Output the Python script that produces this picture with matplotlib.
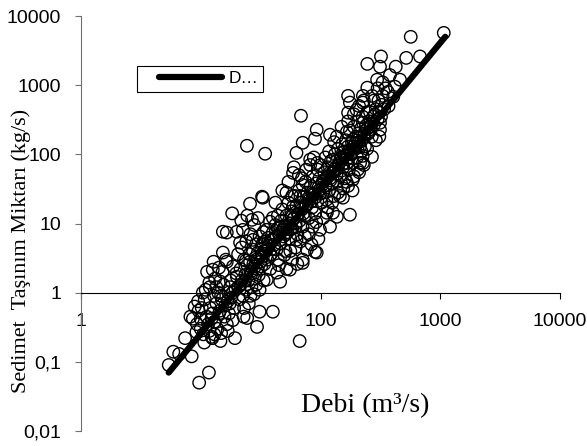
import numpy as np
import matplotlib.pyplot as plt
from matplotlib.ticker import NullLocator
from matplotlib.legend_handler import HandlerLine2D

plt.rcParams['font.family'] = ['Liberation Sans', 'DejaVu Sans']

# olcum noktalari: debi (m3/s) ve sediment (kg/s)
debi = [
    5.4, 5.9, 6.6, 7.4, 8.4, 9.7, 11.7, 8.2, 8.6, 8.9,
    9.3, 9.6, 10.2, 10.0, 10.5, 10.8, 11.2, 11.5, 11.0, 11.8,
    12.0, 9.5, 10.4, 11.3, 11.9, 12.5, 11.8, 9.2, 10.7, 10.0,
    # 12 - 20
    12.6, 12.5, 13.0, 13.5, 13.8, 14.0, 14.5, 14.8, 15.0, 15.5,
    15.8, 16.0, 16.5, 17.0, 17.5, 13.2, 14.2, 15.2, 16.2, 12.8,
    17.2, 17.8, 13.0, 16.8, 14.6, 15.3, 14.5, 16.5, 18.6, 19.5,
    18.0, 19.0, 18.5, 19.8, 16.5, 15.3, 18.3, 13.5, 14.8, 17.6,
    12.9, 12.4, 19.3,
    # 20 - 40
    20.0, 22.5, 21.3, 25.8, 26.8, 27.3, 32.5, 32.5, 25.8, 20.0,
    35.6, 34.5, 33.0, 37.9, 35.6, 40.0, 40.0, 20.5, 21.0, 21.5,
    22.0, 22.5, 23.0, 23.5, 24.0, 24.5, 25.0, 25.5, 26.0, 26.5,
    27.0, 27.5, 28.0, 28.5, 29.0, 29.5, 30.0, 30.5, 31.0, 31.5,
    32.0, 33.0, 33.5, 34.0, 34.5, 35.0, 36.0, 36.5, 37.0, 38.0,
    38.5, 39.0, 20.5, 22.0, 24.0, 26.0, 28.0, 30.0, 23.0, 26.0,
    29.0, 21.8, 24.5, 22.8, 25.2, 27.8, 31.0, 33.5, 24.4, 31.0,
    40.0, 29.5, 24.3, 23.8,
    # 40 - 100
    46.0, 48.5, 43.3, 55.6, 71.0, 90.0, 63.0, 59.0, 52.0, 59.0,
    71.0, 71.0, 63.0, 82.0, 90.0, 99.0, 67.0, 46.0, 71.0, 93.0,
    41.0, 42.0, 43.0, 44.0, 45.0, 46.0, 47.0, 48.0, 49.0, 50.0,
    51.0, 52.0, 53.0, 54.0, 55.0, 56.0, 57.0, 58.0, 60.0, 61.0,
    62.0, 63.0, 64.0, 65.0, 66.0, 67.0, 68.0, 70.0, 71.0, 72.0,
    74.0, 75.0, 76.0, 78.0, 80.0, 81.0, 83.0, 85.0, 86.0, 88.0,
    90.0, 92.0, 94.0, 95.0, 97.0, 98.0, 44.0, 50.0, 56.0, 62.0,
    68.0, 74.0, 80.0, 86.0, 92.0, 42.0, 48.0, 54.0, 60.0, 66.0,
    45.0, 52.0, 58.0, 64.0, 77.0, 84.0, 96.0, 58.0, 70.0, 76.0,
    82.0, 88.0, 94.0, 68.7, 93.0,
    # 100 - 250
    120, 120, 127, 113, 113, 137, 154, 176, 186, 166,
    137, 166, 186, 154, 127, 226, 214, 214, 170, 176,
    200, 170, 226, 226, 226, 246, 246, 102, 104,
    106, 108, 110, 112, 115, 118, 120, 122, 125, 128,
    130, 132, 135, 138, 140, 143, 146, 150, 152, 155,
    158, 160, 163, 166, 170, 173, 176, 180, 183, 186,
    190, 194, 198, 202, 206, 210, 215, 220, 225, 230,
    235, 240, 245, 250, 105, 115, 125, 140, 155, 170,
    190, 210, 230, 110, 130, 150, 170, 190, 210, 230,
    100, 118, 145, 165, 185, 205, 225, 245,
    # 250 ve uzeri
    259, 269, 285, 297, 314, 314, 314, 320, 325, 365,
    380, 405, 418, 425, 461, 520, 567, 678, 1070, 255,
    262, 268, 275, 280, 290, 300, 305, 310, 320, 330,
    340, 350, 370, 290, 310, 280, 300, 330, 270,
    # dogru boyunca yogun kisim
    30, 32, 34, 36, 38, 41, 43, 46, 49, 51,
    53, 56, 59, 62, 65, 69, 72, 76, 79, 84,
    87, 91, 96, 99, 103, 107, 111, 116, 121, 126,
    131, 136, 141, 147, 153, 159, 167, 174, 181, 188,
    196, 204, 212, 221, 232, 243, 255, 268, 18.5, 21.5,
    23.5, 26.5, 28.5, 16.8, 14.2, 12.3, 33, 44, 57, 68,
]

sediment = [
    0.09, 0.14, 0.13, 0.22, 0.12, 0.05, 0.07, 0.45, 0.42, 0.63,
    0.35, 0.55, 0.6, 0.3, 0.25, 0.8, 0.45, 0.35, 1.1, 1.4,
    0.6, 0.75, 1.0, 2.0, 1.2, 0.22, 0.28, 0.27, 0.19, 0.42,
    # 12 - 20
    2.15, 0.5, 0.38, 0.7, 0.3, 1.0, 0.55, 0.26, 0.8, 1.3,
    0.45, 0.65, 0.35, 1.0, 0.7, 1.6, 2.3, 2.0, 3.0, 2.8,
    0.5, 1.5, 0.25, 0.28, 0.2, 3.8, 1.45, 2.8, 2.4, 1.1,
    0.85, 0.6, 0.4, 1.9, 7.4, 7.6, 14.0, 1.2, 0.9, 1.2,
    0.9, 0.23, 0.22,
    # 20 - 40
    7.6, 8.1, 5.3, 19.3, 11.3, 5.8, 24.4, 4.9, 2.8, 1.7,
    1.54, 102, 23.6, 10.6, 8.1, 7.4, 12.1, 1.2, 0.8, 2.2,
    1.5, 0.9, 3.0, 1.8, 1.1, 2.5, 1.5, 3.6, 2.0, 1.2,
    4.2, 2.6, 1.6, 3.2, 5.0, 2.2, 3.8, 1.8, 6.5, 2.8,
    4.2, 3.3, 7.5, 2.6, 5.5, 4.0, 3.0, 6.2, 4.8, 2.2,
    3.6, 5.8, 3.6, 4.5, 5.5, 7.0, 9.5, 12.0, 0.6, 0.9,
    1.3, 11.0, 13.0, 0.45, 0.7, 0.95, 1.1, 1.5, 0.43, 0.53,
    0.53, 0.32, 133, 2.9,
    # 40 - 100
    9.0, 8.1, 1.95, 2.15, 2.7, 3.9, 5.8, 17.5, 28.0, 54.0,
    36.0, 147, 105, 84.0, 168, 8.1, 0.2, 1.44, 3.0, 3.8,
    6.0, 9.5, 4.2, 13.0, 7.0, 5.2, 11.0, 16.0, 6.5, 9.0,
    4.0, 13.0, 7.5, 20.0, 10.0, 6.0, 15.0, 8.5, 12.0, 25.0,
    9.0, 18.0, 7.0, 14.0, 30.0, 11.0, 20.0, 16.0, 9.0, 24.0,
    13.0, 40.0, 18.0, 28.0, 12.0, 22.0, 35.0, 17.0, 48.0, 26.0,
    14.0, 38.0, 21.0, 60.0, 30.0, 45.0, 3.0, 3.5, 4.0, 4.5,
    5.5, 6.5, 7.0, 9.0, 10.5, 20.0, 30.0, 40.0, 65.0, 50.0,
    2.5, 2.2, 3.0, 2.6, 4.2, 5.0, 6.0, 25.0, 45.0, 60.0,
    70.0, 90.0, 75.0, 361, 227,
    # 100 - 250
    192, 9.0, 14.3, 14.3, 47, 12.5, 23.6, 13.4, 43, 75,
    180, 211, 163, 106, 83, 75, 75, 128, 400, 560,
    440, 700, 700, 286, 560, 920, 2030, 20, 40,
    28, 55, 35, 22, 65, 30, 45, 80, 38, 55,
    25, 100, 60, 40, 120, 75, 50, 90, 140, 65,
    110, 45, 160, 85, 130, 60, 220, 100, 150, 75,
    250, 120, 180, 90, 300, 150, 230, 110, 350, 180,
    130, 260, 400, 200, 12, 17, 20, 28, 32, 35,
    48, 55, 70, 90, 150, 250, 300, 380, 500, 600,
    70, 110, 25, 40, 30, 60, 95, 120,
    # 250 ve uzeri
    410, 92, 375, 1200, 286, 227, 1850, 2600, 520, 800,
    1400, 680, 950, 1850, 1200, 2480, 5000, 2600, 5700, 300,
    250, 180, 350, 270, 450, 320, 600, 400, 350, 700,
    450, 900, 500, 160, 180, 600, 900, 1100, 700,
    # dogru boyunca yogun kisim
    3.1, 2.4, 3.9, 4.4, 3.5, 4.9, 6.5, 5.8, 8.0, 7.0,
    9.5, 8.2, 11.5, 10.0, 13.5, 17.0, 14.0, 19.0, 23.0, 21.0,
    27.0, 24.0, 33.0, 27.0, 36.0, 42.0, 36.0, 48.0, 42.0, 55.0,
    62.0, 52.0, 70.0, 85.0, 72.0, 95.0, 100.0, 115.0, 105.0, 130.0,
    145.0, 125.0, 175.0, 160.0, 200.0, 230.0, 210.0, 280.0, 1.0, 1.3,
    1.5, 1.9, 2.4, 0.75, 0.5, 0.42, 5.2, 8.5, 13.0, 25.0,
]

# regresyon dogrusu uclari
fit_debi = [5.4, 1100]
fit_sediment = [0.07, 5000]

x_ticks = [1, 10, 100, 1000, 10000]
x_labels = ['1', '', '100', '1000', '10000']
y_ticks = [0.01, 0.1, 1, 10, 100, 1000, 10000]
y_labels = ['0,01', '0,1', '1', '10', '100', '1000', '10000']

fig = plt.figure(figsize=(5.87, 4.46), dpi=100)
ax = fig.add_axes([81/587, 15/446, 479/587, 415/446])
ax.set_xscale('log')
ax.set_yscale('log')

ax.scatter(debi, sediment, s=80, facecolors='none', edgecolors='black',
           linewidths=1.0, zorder=2)
fit_line, = ax.plot(fit_debi, fit_sediment, color='black', lw=4.5,
                    solid_capstyle='round', label='D\u2026', zorder=3)

ax.set_xlim(1, 10000)
ax.set_ylim(0.01, 10000)

ax.spines['top'].set_visible(False)
ax.spines['right'].set_visible(False)
ax.spines['bottom'].set_position(('data', 1))
ax.spines['bottom'].set_color('black')
ax.spines['left'].set_color('#707070')

ax.set_xticks(x_ticks)
ax.set_xticklabels(x_labels)
ax.set_yticks(y_ticks)
ax.set_yticklabels(y_labels)
ax.xaxis.set_minor_locator(NullLocator())
ax.yaxis.set_minor_locator(NullLocator())
ax.tick_params(axis='x', direction='out', length=4.3, width=0.8,
               pad=10, labelsize=14)
ax.tick_params(axis='y', direction='out', length=4.3, width=0.8,
               pad=10, labelsize=14, color='#707070')

ax.set_ylabel('Sedimet  Taşınım Miktarı (kg/s)', fontfamily='Liberation Serif',
              fontsize=16, va='center')
ax.yaxis.set_label_coords(-0.125, 0.434)
ax.set_xlabel('Debi (m³/s)', fontfamily='Liberation Serif', fontsize=20,
              va='center')
ax.xaxis.set_label_coords(0.593, 0.060)

# legend cizgisi kutunun solundan biraz iceride baslasin
leg = ax.legend(loc='upper left', bbox_to_anchor=((137-81)/479, (431-66)/415),
                borderaxespad=0, fancybox=False, edgecolor='black',
                framealpha=1, fontsize=12.5, handlelength=5.55,
                handletextpad=-0.6, borderpad=0.3,
                handler_map={fit_line: HandlerLine2D(numpoints=2, marker_pad=0.95)})
leg.get_frame().set_linewidth(0.8)

fig.savefig('out.png', dpi=100)
